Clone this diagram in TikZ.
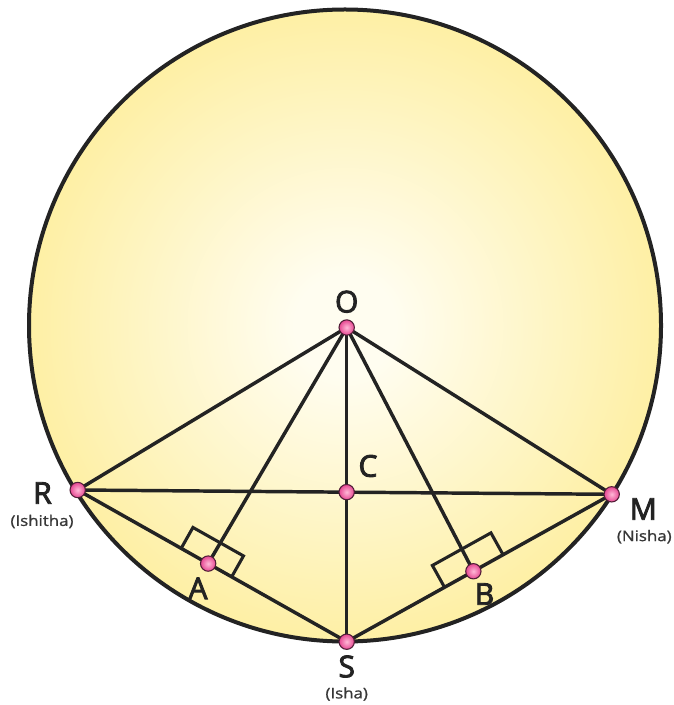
\documentclass[tikz,border=0pt]{standalone}
\usepackage{fontspec}
\setmainfont{Open Sans}
\newfontfamily\labfont{Open Sans}[FakeBold=3]
\newfontfamily\subfont{Open Sans}[FakeBold=1]
\usepackage{graphicx}
\usetikzlibrary{calc}
\definecolor{cin}{RGB}{255,253,240}
\definecolor{cout}{RGB}{253,231,118}
\definecolor{ink}{RGB}{35,35,35}
\definecolor{subgray}{RGB}{55,55,55}
\definecolor{dotin}{RGB}{255,185,215}
\definecolor{dotout}{RGB}{230,70,145}
\definecolor{dotrim}{RGB}{80,30,55}
\pgfdeclareradialshading{discshade}{\pgfpoint{0bp}{0bp}}{color(0bp)=(cin); color(4bp)=(cin); color(38bp)=(cout); color(50bp)=(cout)}
\begin{document}
\begin{tikzpicture}[x=0.75pt,y=-0.75pt,
  seg/.style={draw=ink,line width=2.6pt,line cap=round},
  rmark/.style={draw=ink,line width=2.3pt,line join=miter},
  rim/.style={draw=ink,line width=3pt},
  dot/.style={circle,inner sep=0pt,minimum size=11.5pt,draw=dotrim,line width=0.8pt,inner color=dotin,outer color=dotout},
  lab/.style={font=\labfont\fontsize{22.5}{22.5}\selectfont,text=ink,inner sep=0pt},
  sub/.style={font=\subfont\fontsize{11}{11}\selectfont,text=subgray,inner sep=0pt}]
\useasboundingbox (0,0) rectangle (673,705);
% circle
\coordinate (Oc) at (345,325.5);
\shade[shading=discshade] (Oc) circle (316);
\draw[rim] (Oc) circle (316);
% points
\coordinate (O) at (346.7,327.5);
\coordinate (R) at (77.7,490);
\coordinate (M) at (611.7,494.3);
\coordinate (S) at (346.7,641.7);
\coordinate (C) at (intersection of O--S and R--M);
\coordinate (A) at ($(R)!0.485!(S)$);
\coordinate (B) at ($(S)!0.478!(M)$);
% segments
\draw[seg] (O) -- (R);
\draw[seg] (O) -- (M);
\draw[seg] (O) -- (A);
\draw[seg] (O) -- (B);
\draw[seg] (O) -- (S);
\draw[seg] (R) -- (M);
\draw[seg] (R) -- (S);
\draw[seg] (S) -- (M);
% right angle marks
\coordinate (A1) at ($(A)!23.25pt!(R)$);
\coordinate (A2) at ($(A)!20.25pt!(S)$);
\coordinate (Au) at ($(A)!18pt!90:(S)$);
\draw[rmark] (A1) -- ($(A1)+(Au)-(A)$) -- ($(A2)+(Au)-(A)$) -- (A2);
\coordinate (B1) at ($(B)!24.75pt!(S)$);
\coordinate (B2) at ($(B)!25.5pt!(M)$);
\coordinate (Bu) at ($(B)!18.75pt!90:(M)$);
\draw[rmark] (B1) -- ($(B1)+(Bu)-(B)$) -- ($(B2)+(Bu)-(B)$) -- (B2);
% dots
\node[dot] (dO) at (O) {};
\node[dot] (dC) at (C) {};
\node[dot] (dR) at (R) {};
\node[dot] (dM) at (M) {};
\node[dot] (dS) at (S) {};
\node[dot] (dA) at (A) {};
\node[dot] (dB) at (B) {};
% labels
\node[lab] (lO) at (346.7,301.7) {O};
\node[lab] (lC) at (368,466) {C};
\node[lab] (lR) at (42.5,493) {R};
\node[sub] (sR) at (42,521.5) {\scalebox{1.15}[1]{(Ishitha)}};
\node[lab] (lM) at (643.3,509) {M};
\node[sub] (sM) at (644.3,536.7) {\scalebox{1.15}[1]{(Nisha)}};
\node[lab] (lA) at (198,588.3) {A};
\node[lab] (lB) at (484.5,594) {B};
\node[lab] (lS) at (346.7,666.5) {S};
\node[sub] (sS) at (346.7,694) {\scalebox{1.15}[1]{(Isha)}};
\end{tikzpicture}
\end{document}
